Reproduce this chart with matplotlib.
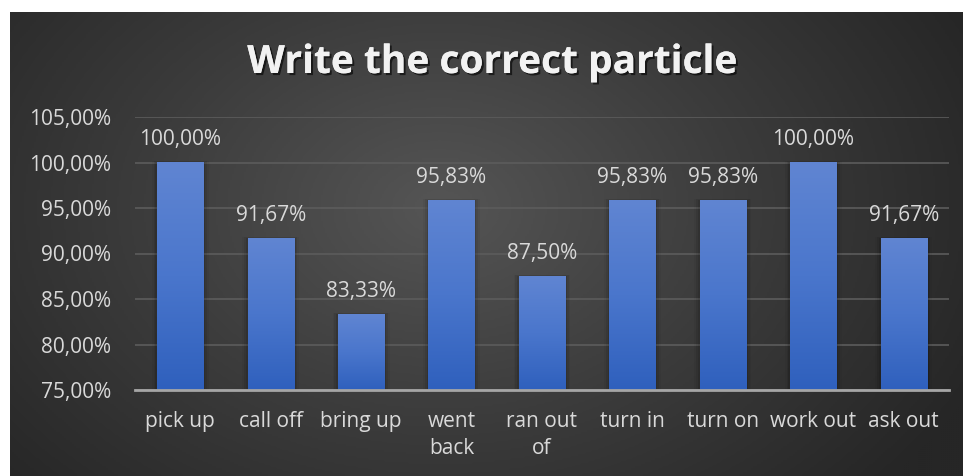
import numpy as np
import matplotlib
matplotlib.use("Agg")
import matplotlib.pyplot as plt
from matplotlib.colors import LinearSegmentedColormap
from matplotlib.ticker import FuncFormatter
import matplotlib.patheffects as pe

categories = ["pick up", "call off", "bring up", "went\nback", "ran out\nof",
              "turn in", "turn on", "work out", "ask out"]
values = [100.00, 91.67, 83.33, 95.83, 87.50, 95.83, 95.83, 100.00, 91.67]
y_ticks = [75, 80, 85, 90, 95, 100, 105]
title = "Write the correct particle"

W, H = 965, 476
fig = plt.figure(figsize=(W / 100, H / 100), dpi=100, facecolor="white")
FONT = "Open Sans"
FS = 15

# background with radial gradient
bg = fig.add_axes([10 / W, 0, 953 / W, 464 / H])
bg.set_axis_off()
ny, nx = 232, 476
yy, xx = np.mgrid[0:ny, 0:nx]
cx, cy = nx * 0.45, ny * 0.42
r = np.sqrt(((xx - cx) / (nx * 0.62)) ** 2 + ((yy - cy) / (ny * 0.9)) ** 2)
r = np.clip(r, 0, 1)
bg_cmap = LinearSegmentedColormap.from_list("bg", ["#555555", "#3c3c3c", "#262626"])
bg.imshow(r, cmap=bg_cmap, aspect="auto", extent=[0, 1, 0, 1], vmin=0, vmax=1)
bg.set_xlim(0, 1)
bg.set_ylim(0, 1)

ax = fig.add_axes([135 / W, (H - 390) / H, (949 - 135) / W, (390 - 117) / H])
ax.set_facecolor("none")
x = np.arange(len(categories))
bars = ax.bar(x, values, width=0.51, color="#4472c4", zorder=3)
ymin, ymax = y_ticks[0], y_ticks[-1]

bar_cmap = LinearSegmentedColormap.from_list("bar", ["#2f60bd", "#4a76cc", "#6085d2"])
grad = np.linspace(0, 1, 256).reshape(-1, 1)
for b in bars:
    x0, w, top = b.get_x(), b.get_width(), b.get_height()
    # soft shadow
    for k, a in enumerate([0.10, 0.07, 0.04]):
        d = 0.02 * (k + 1)
        ax.add_patch(plt.Rectangle((x0 - d, ymin), w + 2 * d, top - ymin + d * 3,
                                   facecolor="black", alpha=a, zorder=2, lw=0))
    ax.imshow(grad, cmap=bar_cmap, aspect="auto", origin="lower",
              extent=[x0, x0 + w, ymin, top], zorder=4)

ax.set_xlim(-0.5, len(categories) - 0.5)
ax.set_ylim(ymin, ymax)

ax.set_yticks(y_ticks)
ax.yaxis.set_major_formatter(FuncFormatter(lambda v, p: f"{v:.2f}".replace(".", ",") + "%"))
ax.grid(axis="y", color="#5c5c5c", lw=1.2, zorder=1)
ax.set_xticks(x)
ax.set_xticklabels(categories)
for s in ["left", "right", "top"]:
    ax.spines[s].set_visible(False)
ax.spines["bottom"].set_color("#a6a6a6")
ax.spines["bottom"].set_linewidth(2)
ax.spines["bottom"].set_zorder(5)
ax.tick_params(axis="both", length=0, colors="#d9d9d9", labelsize=FS)
ax.tick_params(axis="x", pad=15)
ax.tick_params(axis="y", pad=17)
for lab in ax.get_xticklabels() + ax.get_yticklabels():
    lab.set_family(FONT)
for lab in ax.get_xticklabels():
    lab.set_linespacing(1.4)
    lab.set_verticalalignment("top")

for xi, v in zip(x, values):
    ax.annotate(f"{v:.2f}".replace(".", ",") + "%", (xi, v), xytext=(0, 9),
                textcoords="offset points", ha="center", va="bottom",
                color="#d9d9d9", fontsize=FS, family=FONT, zorder=6)

fig.text(492 / W, 1 - 73 / H, title, ha="center", va="baseline", color="#f2f2f2",
         fontsize=28, fontweight="bold", family=FONT,
         path_effects=[pe.withSimplePatchShadow(offset=(1.5, -1.5), shadow_rgbFace="black", alpha=0.6),
                       pe.Normal()])

fig.savefig("out.png", dpi=100, facecolor="white")
